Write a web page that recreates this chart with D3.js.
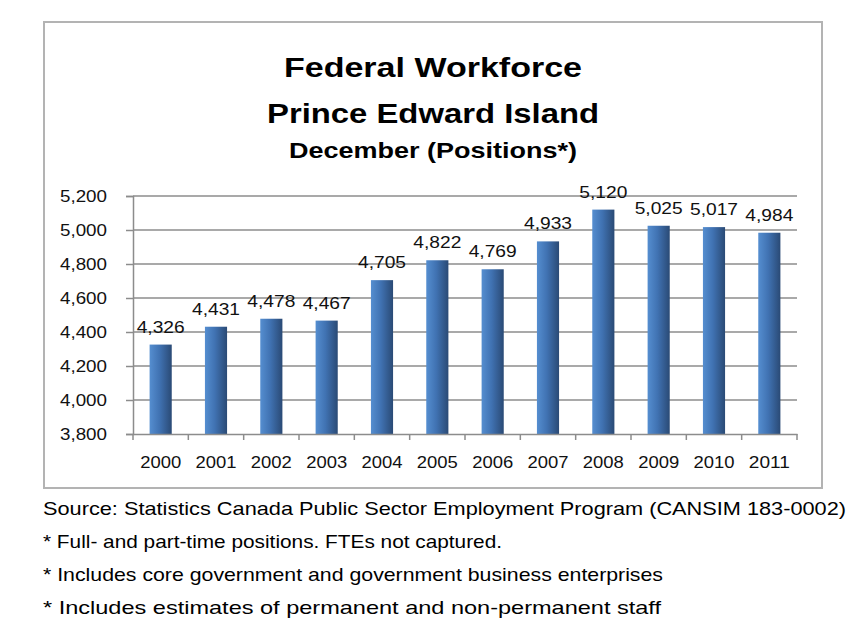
<!DOCTYPE html>
<html>
<head>
<meta charset="utf-8">
<script src="https://cdn.jsdelivr.net/npm/d3@7"></script>
<style>
  body { margin: 0; background: #fff; }
  svg text { font-family: "Liberation Sans", "DejaVu Sans Condensed", sans-serif; }
</style>
</head>
<body>
<svg id="chart" width="849" height="629"></svg>
<script>
var WIDTH = 849;
var HEIGHT = 629;

var years = ['2000', '2001', '2002', '2003', '2004', '2005', '2006', '2007', '2008', '2009', '2010', '2011'];
var positions = [4326, 4431, 4478, 4467, 4705, 4822, 4769, 4933, 5120, 5025, 5017, 4984];
var yTicks = [3800, 4000, 4200, 4400, 4600, 4800, 5000, 5200];
var titleLines = ['Federal Workforce', 'Prince Edward Island', 'December (Positions*)'];
var notes = [
    'Source: Statistics Canada Public Sector Employment Program (CANSIM 183-0002)',
    '* Full- and part-time positions. FTEs not captured.',
    '* Includes core government and government business enterprises',
    '* Includes estimates of permanent and non-permanent staff'
];

var svg = d3.select('#chart');
var fmt = d3.format(',');

// gradient for the bars, light on the left, dark on the right
var grad = svg.append('defs').append('linearGradient')
    .attr('id', 'barGrad')
    .attr('x1', '0%').attr('x2', '100%').attr('y1', '0%').attr('y2', '0%');
grad.append('stop').attr('offset', '0%').attr('stop-color', '#558ed0');
grad.append('stop').attr('offset', '45%').attr('stop-color', '#4072b2');
grad.append('stop').attr('offset', '100%').attr('stop-color', '#2a4a75');

// outer box
svg.append('rect')
    .attr('x', 44).attr('y', 22)
    .attr('width', 778).attr('height', 466)
    .attr('fill', '#fff')
    .attr('stroke', '#b3b3b3')
    .attr('stroke-width', 2);

// titles
var titleSpec = [
    { y: 77, size: 27, len: 298 },
    { y: 123, size: 27, len: 332 },
    { y: 158, size: 22, len: 288 }
];
svg.selectAll('.title').data(titleLines).enter()
    .append('text')
    .attr('class', 'title')
    .attr('x', 433)
    .attr('y', function(d, i){ return titleSpec[i].y; })
    .attr('text-anchor', 'middle')
    .attr('font-size', function(d, i){ return titleSpec[i].size; })
    .attr('font-weight', 'bold')
    .attr('textLength', function(d, i){ return titleSpec[i].len; })
    .attr('lengthAdjust', 'spacingAndGlyphs')
    .text(function(d){ return d; });

var plotLeft = 133, plotRight = 797, plotTop = 196, plotBottom = 434;

var xScale = d3.scaleBand().domain(years).range([plotLeft, plotRight]).paddingInner(0.6).paddingOuter(0.3);
var xAxisScale = d3.scaleBand().domain(years).range([plotLeft, plotRight]);
var yScale = d3.scaleLinear().domain([3800, 5200]).range([plotBottom, plotTop]);

// gridlines
svg.append('g').selectAll('line').data(yTicks.slice(1)).enter()
    .append('line')
    .attr('x1', plotLeft).attr('x2', plotRight)
    .attr('y1', function(d){ return yScale(d); })
    .attr('y2', function(d){ return yScale(d); })
    .attr('stroke', '#8c8c8c')
    .attr('stroke-width', 1.5);

// y axis
var leftAxis = d3.axisLeft(yScale).tickValues(yTicks).tickFormat(fmt).tickSize(7).tickPadding(19);
var yAxis = svg.append('g').attr('transform', 'translate(' + plotLeft + ',0)').call(leftAxis);
yAxis.select('.domain').attr('stroke', '#8c8c8c').attr('stroke-width', 1.5);
yAxis.selectAll('.tick line').attr('stroke', '#8c8c8c').attr('stroke-width', 1.5);
yAxis.selectAll('.tick text')
    .attr('font-size', 17)
    .attr('fill', '#111')
    .attr('textLength', 47)
    .attr('lengthAdjust', 'spacingAndGlyphs')
    .attr('font-family', null);

// bars
svg.append('g').selectAll('rect').data(positions).enter()
    .append('rect')
    .attr('x', function(d, i){ return xScale(years[i]); })
    .attr('y', function(d){ return yScale(d); })
    .attr('width', xScale.bandwidth())
    .attr('height', function(d){ return plotBottom - yScale(d); })
    .attr('fill', 'url(#barGrad)');

// x axis with ticks between categories
var bottomAxis = d3.axisBottom(xAxisScale).tickSize(0).tickPadding(22);
var xAxis = svg.append('g').attr('transform', 'translate(0,' + plotBottom + ')').call(bottomAxis);
xAxis.select('.domain').attr('stroke', '#8c8c8c').attr('stroke-width', 1.5);
xAxis.selectAll('.tick text')
    .attr('font-size', 17)
    .attr('fill', '#111')
    .attr('textLength', 41)
    .attr('lengthAdjust', 'spacingAndGlyphs')
    .attr('font-family', null);
var bounds = years.map(function(y){ return xAxisScale(y); }).concat([plotRight]);
xAxis.selectAll('.sep').data(bounds).enter()
    .append('line')
    .attr('class', 'sep')
    .attr('x1', function(d){ return d; }).attr('x2', function(d){ return d; })
    .attr('y1', 0).attr('y2', 6)
    .attr('stroke', '#8c8c8c')
    .attr('stroke-width', 1.5);

// data labels
svg.append('g').selectAll('text').data(positions).enter()
    .append('text')
    .attr('x', function(d, i){ return xScale(years[i]) + xScale.bandwidth() / 2; })
    .attr('y', function(d){ return yScale(d) - 12; })
    .attr('text-anchor', 'middle')
    .attr('font-size', 17)
    .attr('fill', '#111')
    .attr('textLength', 48)
    .attr('lengthAdjust', 'spacingAndGlyphs')
    .text(function(d){ return fmt(d); });

// footnotes
var noteLens = [803, 459, 620, 618];
svg.append('g').selectAll('text').data(notes).enter()
    .append('text')
    .attr('x', 43)
    .attr('y', function(d, i){ return 515 + i * 33; })
    .attr('font-size', 18.5)
    .attr('fill', '#000')
    .attr('textLength', function(d, i){ return noteLens[i]; })
    .attr('lengthAdjust', 'spacingAndGlyphs')
    .text(function(d){ return d; });
</script>
</body>
</html>
